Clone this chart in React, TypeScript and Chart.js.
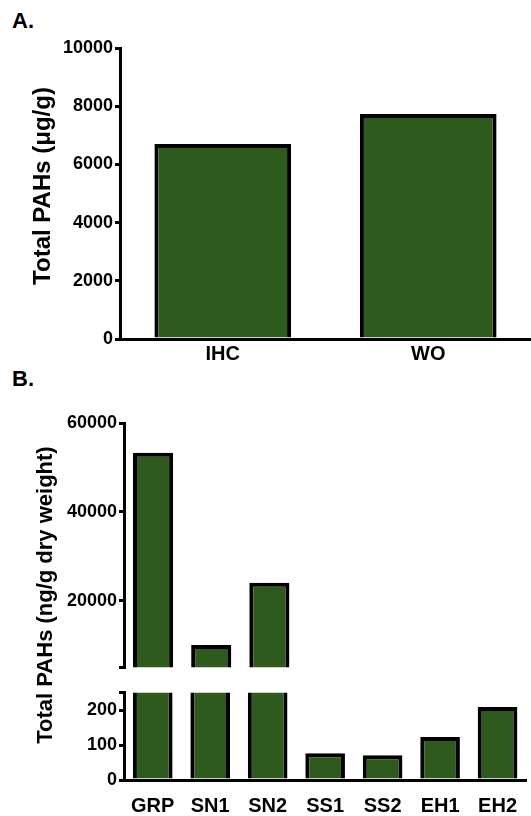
import React, { useEffect, useRef } from 'react';
import { Chart, registerables } from 'chart.js';

Chart.register(...registerables);

// ---- data ----
const panelALabels = ['IHC', 'WO'];
const panelAValues = [6700, 7730];
const panelATicks = [0, 2000, 4000, 6000, 8000, 10000];
const panelARange = [0, 10000];

const panelBLabels = ['GRP', 'SN1', 'SN2', 'SS1', 'SS2', 'EH1', 'EH2'];
const panelBValues = [53300, 10000, 24000, 77, 71, 123, 209];
const panelBUpperTicks = [20000, 40000, 60000];
const panelBLowerTicks = [0, 100, 200];
const panelBUpperRange = [5000, 60000];
const panelBLowerRange = [0, 250];

const titleA = 'Total PAHs (μg/g)';
const titleB = 'Total PAHs (ng/g dry weight)';

// ---- styles ----
const FONT = "'Liberation Sans', Arial, Helvetica, sans-serif";
const GREEN = '#2f5a1d';
const BLACK = '#000000';

function ChartCanvas({ config, left, top, width, height }: any) {
  const ref = useRef<HTMLCanvasElement | null>(null);
  useEffect(() => {
    if (!ref.current) return;
    const chart = new Chart(ref.current, config);
    return () => chart.destroy();
  }, []);
  return (
    <canvas
      ref={ref}
      width={width}
      height={height}
      style={{ position: 'absolute', left, top, width, height }}
    />
  );
}

const tickFont = { family: FONT, size: 18, weight: 'bold' as const };
const labelFont = { family: FONT, size: 20, weight: 'bold' as const };

function yAxis(range: number[], ticks: number[], capValue: number | null, width: number) {
  return {
    min: range[0],
    max: range[1],
    afterBuildTicks: (s: any) => {
      const vals = capValue === null ? ticks.slice() : [...ticks, capValue];
      vals.sort((a, b) => a - b);
      s.ticks = vals.map((v) => ({ value: v }));
    },
    afterFit: (s: any) => {
      s.width = width;
    },
    ticks: {
      color: BLACK,
      font: tickFont,
      padding: 2,
      callback: (v: any) => (capValue !== null && v === capValue ? '' : String(v)),
    },
    grid: {
      drawOnChartArea: false,
      drawTicks: true,
      tickLength: 5,
      color: BLACK,
      lineWidth: 3,
    },
    border: { display: true, color: BLACK, width: 3 },
  };
}

function xAxis(height: number, padding: number) {
  return {
    grid: { display: false, drawTicks: false },
    border: { display: true, color: BLACK, width: 3 },
    ticks: { color: BLACK, font: labelFont, padding },
    afterFit: (s: any) => {
      s.height = height;
    },
  };
}

function barDataset(values: number[], pct: number) {
  return {
    data: values,
    backgroundColor: GREEN,
    borderColor: BLACK,
    borderWidth: 4,
    barPercentage: pct,
    categoryPercentage: 1,
    clip: 0,
  };
}

const basePlugins = {
  legend: { display: false },
  tooltip: { enabled: false },
  title: { display: false },
};

const configA: any = {
  type: 'bar',
  data: { labels: panelALabels, datasets: [barDataset(panelAValues, 0.665)] },
  options: {
    responsive: false,
    animation: false,
    layout: { padding: { top: 48, left: 0, right: 0, bottom: 0 } },
    plugins: basePlugins,
    scales: {
      x: xAxis(61, 3),
      y: yAxis(panelARange, panelATicks, null, 120),
    },
  },
};

const configBUpper: any = {
  type: 'bar',
  data: { labels: panelBLabels, datasets: [barDataset(panelBValues, 0.69)] },
  options: {
    responsive: false,
    animation: false,
    layout: { padding: { top: 23, left: 0, right: 0, bottom: 10 } },
    plugins: basePlugins,
    scales: {
      x: { display: false },
      y: yAxis(panelBUpperRange, panelBUpperTicks, panelBUpperRange[0], 124),
    },
  },
};

const configBLower: any = {
  type: 'bar',
  data: { labels: panelBLabels, datasets: [barDataset(panelBValues, 0.69)] },
  options: {
    responsive: false,
    animation: false,
    layout: { padding: { top: 12, left: 0, right: 0, bottom: 0 } },
    plugins: basePlugins,
    scales: {
      x: xAxis(36, 14),
      y: yAxis(panelBLowerRange, panelBLowerTicks, panelBLowerRange[1], 124),
    },
  },
};

const textStyle: any = {
  position: 'absolute',
  fontFamily: FONT,
  fontWeight: 'bold',
  fontSize: 22,
  lineHeight: 1,
  color: BLACK,
  whiteSpace: 'nowrap',
};

export default function App() {
  return (
    <div
      style={{
        position: 'absolute',
        left: 0,
        top: 0,
        width: 531,
        height: 816,
        background: '#ffffff',
        overflow: 'hidden',
      }}
    >
      <div style={{ ...textStyle, left: 12, top: 10 }}>A.</div>
      <div style={{ ...textStyle, left: 12, top: 368 }}>B.</div>
      <ChartCanvas config={configA} left={0} top={0} width={531} height={400} />
      <ChartCanvas config={configBUpper} left={0} top={400} width={531} height={280} />
      <ChartCanvas config={configBLower} left={0} top={680} width={531} height={136} />
      <div
        style={{
          ...textStyle,
          fontSize: 24,
          left: 42,
          top: 186,
          transform: 'translate(-50%, -50%) rotate(-90deg)',
        }}
      >
        {titleA}
      </div>
      <div
        style={{
          ...textStyle,
          fontSize: 22,
          left: 45,
          top: 595,
          transform: 'translate(-50%, -50%) rotate(-90deg)',
        }}
      >
        {titleB}
      </div>
    </div>
  );
}
